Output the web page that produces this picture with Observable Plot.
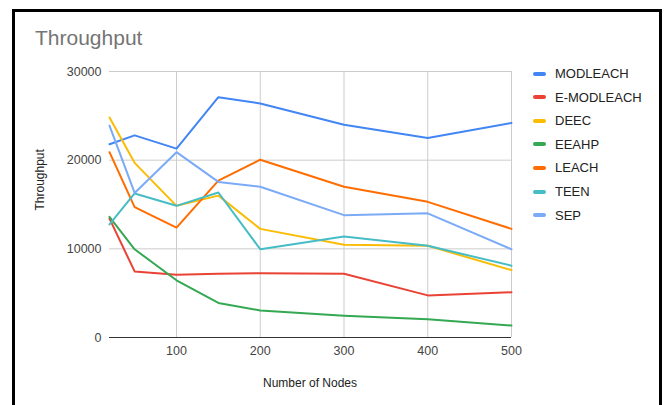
<!DOCTYPE html>
<html>
<head>
<meta charset="utf-8">
<script src="https://cdn.jsdelivr.net/npm/d3@7"></script>
<script src="https://cdn.jsdelivr.net/npm/@observablehq/plot@0.6"></script>
<style>
  html, body { margin: 0; padding: 0; background: #fff; }
  #wrap { position: relative; width: 668px; height: 405px; overflow: hidden; font-family: "Liberation Sans", Arial, sans-serif; }
  #frame { position: absolute; left: 12px; top: 9px; width: 650px; height: 410px; border: 3px solid #000; box-sizing: border-box; }
  #title { position: absolute; left: 35px; top: 27px; font-size: 21px; color: #757575; line-height: 1; }
  #chart { position: absolute; left: 0; top: 0; }
  #legend { position: absolute; left: 533px; top: 62px; font-size: 13px; color: #222; }
  .item { display: flex; align-items: center; height: 23.55px; }
  .sw { width: 13px; height: 4px; border-radius: 2px; margin-right: 9px; }
</style>
</head>
<body>
<div id="wrap">
  <div id="frame"></div>
  <div id="title">Throughput</div>
  <div id="chart"></div>
  <div id="legend"></div>
</div>
<script>
// Number of nodes per scenario
const nodes = [20, 50, 100, 150, 200, 300, 400, 500];

// Throughput per protocol
const modleach  = [21800, 22800, 21300, 27100, 26400, 24000, 22500, 24200];
const emodleach = [13400, 7450, 7070, 7200, 7250, 7200, 4750, 5100];
const deec      = [24800, 19700, 14850, 16000, 12250, 10450, 10350, 7600];
const eeahp     = [13600, 9950, 6450, 3900, 3050, 2450, 2050, 1350];
const leach     = [20900, 14700, 12400, 17700, 20050, 17000, 15300, 12250];
const teen      = [12750, 16250, 14850, 16350, 9950, 11400, 10350, 8100];
const sep       = [23900, 16300, 20900, 17550, 17000, 13800, 14000, 9950];

const seriesNames = ["MODLEACH", "E-MODLEACH", "DEEC", "EEAHP", "LEACH", "TEEN", "SEP"];
const seriesValues = [modleach, emodleach, deec, eeahp, leach, teen, sep];
const colors = ["#4285F4", "#EA4335", "#FBBC04", "#34A853", "#FF6D01", "#46BDC6", "#7BAAF7"];

const yTicks = [0, 10000, 20000, 30000];
const xTicks = [100, 200, 300, 400, 500];

const rows = seriesNames.flatMap((name, i) =>
  nodes.map((n, j) => ({series: name, nodes: n, value: seriesValues[i][j]}))
);

const chart = Plot.plot({
  width: 668,
  height: 405,
  marginLeft: 109,
  marginRight: 157,
  marginTop: 71,
  marginBottom: 68,
  style: {fontFamily: "'Liberation Sans', Arial, sans-serif", fontSize: "12.5px", color: "#444", background: "transparent"},
  x: {domain: [20, 500], ticks: xTicks, tickSize: 0, tickPadding: 9, label: null},
  y: {domain: [0, 30000], ticks: yTicks, tickSize: 0, tickPadding: 8, label: null, tickFormat: d => String(d)},
  color: {domain: seriesNames, range: colors},
  marks: [
    Plot.gridX(xTicks, {stroke: "#cccccc", strokeOpacity: 1, strokeWidth: 1}),
    Plot.gridY(yTicks.filter(d => d > 0), {stroke: "#cccccc", strokeOpacity: 1, strokeWidth: 1}),
    Plot.axisX({ticks: xTicks, tickSize: 0, tickPadding: 9, label: null, fill: "#444"}),
    Plot.axisY({ticks: yTicks, tickSize: 0, tickPadding: 8, label: null, fill: "#444", tickFormat: d => String(d)}),
    Plot.ruleY([0], {stroke: "#333", strokeWidth: 1.2}),
    Plot.line(rows, {x: "nodes", y: "value", z: "series", stroke: "series", strokeWidth: 2, strokeLinejoin: "round"}),
    Plot.text(["Number of Nodes"], {frameAnchor: "bottom", dy: 49, dx: -0.5, fill: "#222", fontSize: 12}),
    Plot.text(["Throughput"], {frameAnchor: "left", dx: -69, dy: 6, rotate: -90, fill: "#222", fontSize: 12})
  ]
});
document.getElementById("chart").appendChild(chart);

const legend = document.getElementById("legend");
seriesNames.forEach((name, i) => {
  const item = document.createElement("div");
  item.className = "item";
  const sw = document.createElement("span");
  sw.className = "sw";
  sw.style.background = colors[i];
  const label = document.createElement("span");
  label.textContent = name;
  item.appendChild(sw);
  item.appendChild(label);
  legend.appendChild(item);
});
</script>
</body>
</html>
